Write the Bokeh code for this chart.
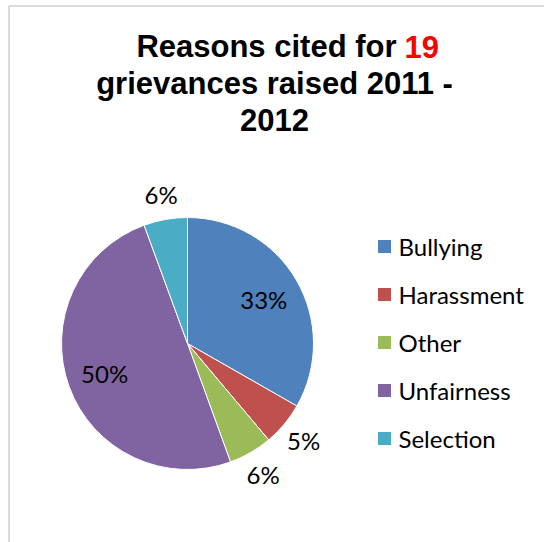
import numpy as np
from bokeh.plotting import figure
from bokeh.models import Range1d, BoxAnnotation, ColumnDataSource
from bokeh.core.properties import value
from bokeh.embed import file_html
from bokeh.resources import INLINE

# ---- data ----
categories = ["Bullying", "Harassment", "Other", "Unfairness", "Selection"]
shares = [33.3, 5.6, 5.6, 50.0, 5.6]
pct_labels = ["33%", "5%", "6%", "50%", "6%"]
colors = ["#4F81BD", "#C0504D", "#9BBB59", "#8064A2", "#4BACC6"]
title_pre = "Reasons cited for"
title_num = "19"
title_line2 = "grievances raised 2011 -"
title_line3 = "2012"

W, H = 544, 542
p = figure(width=W, height=H, output_backend="svg", toolbar_location=None,
           x_range=Range1d(0, W), y_range=Range1d(0, H), min_border=0)
p.axis.visible = False
p.grid.visible = False
p.outline_line_color = None
p.background_fill_color = "white"
p.border_fill_color = "white"

def Y(py):
    return H - py

# chart-area border
p.add_layout(BoxAnnotation(left=8.5, right=W + 20, top=Y(5.5), bottom=-20,
                           fill_alpha=0, line_color="#888888", line_width=2))

# ---- pie ----
cx, cy, R = 187, Y(343), 126
frac = np.array(shares) / np.sum(shares)
cum = np.concatenate([[0], np.cumsum(frac)])
start = np.pi / 2 - 2 * np.pi * cum[:-1]
end = np.pi / 2 - 2 * np.pi * cum[1:]
mid = (start + end) / 2
src = ColumnDataSource(dict(start=start, end=end, color=colors, cat=categories))
p.wedge(x=cx, y=cy, radius=R, start_angle="start", end_angle="end",
        direction="clock", fill_color="color", line_color="white",
        line_width=1, source=src)

# data labels: inside for big slices, outside (best fit) for small ones
lab_r = np.where(frac > 0.2, 0.70 * R, 1.20 * R)
lx = cx + lab_r * np.cos(mid)
ly = cy + lab_r * np.sin(mid)
p.text(x=lx, y=ly, text=pct_labels, text_align="center", text_baseline="middle",
       text_font=value("Lato"), text_font_size="24px", text_color="#000000")

# ---- legend ----
idx = np.arange(len(categories))
leg_y = Y(246) - 48 * idx
p.scatter(x=[384] * len(categories), y=leg_y, marker="square", size=13,
          fill_color=colors, line_color=None)
p.text(x=[398] * len(categories), y=leg_y, text=categories, text_align="left",
       text_baseline="middle", text_font=value("Lato"), text_font_size="24px",
       text_color="#000000")

# ---- title ----
tf = value("Liberation Sans")
p.text(x=[396], y=[Y(46)], text=[title_pre], text_align="right",
       text_baseline="alphabetic", text_font=tf, text_font_size="31px",
       text_font_style="bold", text_color="#000000")
p.text(x=[404], y=[Y(46)], text=[title_num], text_align="left",
       text_baseline="alphabetic", text_font=tf, text_font_size="31px",
       text_font_style="bold", text_color="#FF0000")
p.text(x=[274, 274], y=[Y(83), Y(119)], text=[title_line2, title_line3],
       text_align="center", text_baseline="alphabetic", text_font=tf,
       text_font_size="31px", text_font_style="bold", text_color="#000000")

open("out.html", "w").write(file_html(p, INLINE))
